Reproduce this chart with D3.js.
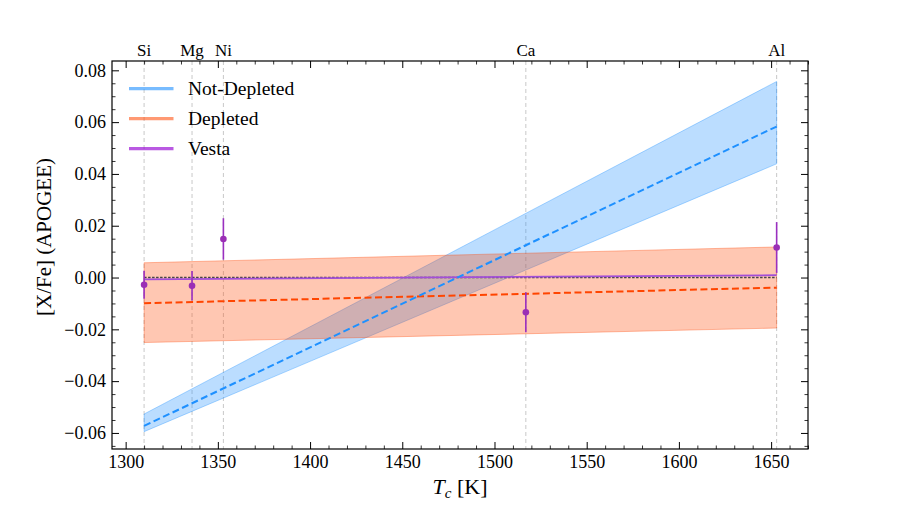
<!DOCTYPE html>
<html>
<head>
<meta charset="utf-8">
<script src="https://cdn.jsdelivr.net/npm/d3@7"></script>
<style>
  body { margin: 0; background: #fff; }
  svg text { font-family: "Liberation Serif", "DejaVu Serif", serif; fill: #000; }
</style>
</head>
<body>
<svg id="chart" width="899" height="514"></svg>
<script>
// element condensation temperatures and Vesta abundances
const elements = ["Si", "Mg", "Ni", "Ca", "Al"];
const tc = [1310, 1336, 1353, 1517, 1653];
const vestaVals = [-0.0028, -0.0032, 0.0149, -0.0134, 0.0116];
const vestaErrs = [0.0054, 0.0057, 0.0080, 0.0077, 0.0098];

// fits evaluated at the Tc range ends
const fitTc = [1310, 1653];
const notDepFit = [-0.0573, 0.0583];
const notDepLo = [-0.0595, 0.0439];
const notDepHi = [-0.0527, 0.0757];
const depFit = [-0.0099, -0.0039];
const depLo = [-0.0251, -0.0195];
const depHi = [0.0057, 0.0118];
const vestaFit = [-0.0007, 0.0009];
const zeroLine = [0, 0];

const xTicks = [1300, 1350, 1400, 1450, 1500, 1550, 1600, 1650];
const yTicks = [-0.06, -0.04, -0.02, 0.00, 0.02, 0.04, 0.06, 0.08];

const legendNames = ["Not-Depleted", "Depleted", "Vesta"];
const legendColours = ["rgba(30,144,255,0.6)", "rgba(255,69,0,0.55)", "rgba(148,0,211,0.65)"];

const pLeft = 112, pRight = 808, pTop = 61, pBottom = 449;

const svg = d3.select("#chart");

const x = d3.scaleLinear().domain([1292.6, 1670]).range([pLeft, pRight]);
const y = d3.scaleLinear().domain([-0.0662, 0.0836]).range([pBottom, pTop]);

const g = svg.append("g");

// vertical guide lines at each element
g.selectAll(".vline")
    .data(tc)
    .enter()
    .append("line")
    .attr("x1", d => x(d)).attr("x2", d => x(d))
    .attr("y1", pTop).attr("y2", pBottom)
    .attr("stroke", "#c8c8c8")
    .attr("stroke-width", 1)
    .attr("stroke-dasharray", "4,3");

function bandData(lo, hi) {
    return fitTc.map((t, i) => ({ t: t, lo: lo[i], hi: hi[i] }));
}

const area = d3.area()
    .x(d => x(d.t))
    .y0(d => y(d.lo))
    .y1(d => y(d.hi));

g.append("path")
    .datum(bandData(notDepLo, notDepHi))
    .attr("d", area)
    .attr("fill", "rgba(30,144,255,0.3)")
    .attr("stroke", "rgba(30,144,255,0.35)")
    .attr("stroke-width", 1);

g.append("path")
    .datum(bandData(depLo, depHi))
    .attr("d", area)
    .attr("fill", "rgba(255,69,0,0.3)")
    .attr("stroke", "rgba(255,69,0,0.35)")
    .attr("stroke-width", 1);

const line = d3.line()
    .x(d => x(d[0]))
    .y(d => y(d[1]));

function pairs(vals) {
    return fitTc.map((t, i) => [t, vals[i]]);
}

// zero reference
g.append("path")
    .datum(pairs(zeroLine))
    .attr("d", line)
    .attr("fill", "none")
    .attr("stroke", "#444")
    .attr("stroke-width", 1.4)
    .attr("stroke-dasharray", "2.5,1.5");

g.append("path")
    .datum(pairs(vestaFit))
    .attr("d", line)
    .attr("fill", "none")
    .attr("stroke", "#a24fd8")
    .attr("stroke-width", 1.8);

g.append("path")
    .datum(pairs(depFit))
    .attr("d", line)
    .attr("fill", "none")
    .attr("stroke", "#ff4500")
    .attr("stroke-width", 2)
    .attr("stroke-dasharray", "7,3.5");

g.append("path")
    .datum(pairs(notDepFit))
    .attr("d", line)
    .attr("fill", "none")
    .attr("stroke", "#1e90ff")
    .attr("stroke-width", 2)
    .attr("stroke-dasharray", "7,3.5");

// Vesta points with error bars
const pts = tc.map((t, i) => ({ t: t, v: vestaVals[i], e: vestaErrs[i] }));

g.selectAll(".err")
    .data(pts)
    .enter()
    .append("line")
    .attr("x1", d => x(d.t)).attr("x2", d => x(d.t))
    .attr("y1", d => y(d.v - d.e)).attr("y2", d => y(d.v + d.e))
    .attr("stroke", "#9a2fc0")
    .attr("stroke-width", 1.6);

g.selectAll(".pt")
    .data(pts)
    .enter()
    .append("circle")
    .attr("cx", d => x(d.t))
    .attr("cy", d => y(d.v))
    .attr("r", 3.3)
    .attr("fill", "#9a2fb5");

// axes, ticks pointing inward on all four sides
const fmtY = d3.format(".2f");

function minor(lo, hi, step) {
    let out = [];
    for (let v = lo; v <= hi + 1e-9; v += step) out.push(+v.toFixed(4));
    return out;
}
const xMinor = minor(1300, 1670, 10).filter(v => v % 50 !== 0);
const yMinor = minor(-0.065, 0.08, 0.005).filter(v => Math.abs(Math.round(v * 50) - v * 50) > 1e-6);

function addAxis(axisFn, scale, ticks, minorTicks, transform, labels, fmt) {
    const ax = svg.append("g").attr("transform", transform);
    ax.call(axisFn(scale).tickValues(ticks).tickSize(-7).tickPadding(6)
        .tickFormat(labels ? fmt : ""));
    ax.select(".domain").remove();
    ax.selectAll("line").attr("stroke", "#000").attr("stroke-width", 1);
    ax.selectAll("text").style("font-size", "18px").attr("fill", "#000");
    const am = svg.append("g").attr("transform", transform);
    am.call(axisFn(scale).tickValues(minorTicks).tickSize(-3.5).tickFormat(""));
    am.select(".domain").remove();
    am.selectAll("line").attr("stroke", "#000").attr("stroke-width", 0.8);
    return ax;
}

addAxis(d3.axisBottom, x, xTicks, xMinor, "translate(0," + pBottom + ")", true, d3.format("d"));
addAxis(d3.axisTop, x, xTicks, xMinor, "translate(0," + pTop + ")", false);
addAxis(d3.axisLeft, y, yTicks, yMinor, "translate(" + pLeft + ",0)", true, fmtY);
addAxis(d3.axisRight, y, yTicks, yMinor, "translate(" + pRight + ",0)", false);

svg.append("rect")
    .attr("x", pLeft).attr("y", pTop)
    .attr("width", pRight - pLeft).attr("height", pBottom - pTop)
    .attr("fill", "none")
    .attr("stroke", "#000")
    .attr("stroke-width", 1.2);

// element names on top
svg.selectAll(".elabel")
    .data(elements)
    .enter()
    .append("text")
    .attr("x", (d, i) => x(tc[i]))
    .attr("y", 56)
    .attr("text-anchor", "middle")
    .style("font-size", "17px")
    .text(d => d);

// legend
const leg = svg.append("g");
legendNames.forEach((name, i) => {
    const ly = 88.7 + i * 30;
    leg.append("line")
        .attr("x1", 129).attr("x2", 173.5)
        .attr("y1", ly).attr("y2", ly)
        .attr("stroke", legendColours[i])
        .attr("stroke-width", 3.2);
    leg.append("text")
        .attr("x", 188).attr("y", ly + 6.5)
        .style("font-size", "19.5px")
        .text(name);
});

// axis titles
const xt = svg.append("text")
    .attr("x", 460).attr("y", 494)
    .attr("text-anchor", "middle")
    .style("font-size", "22px");
xt.append("tspan").style("font-style", "italic").text("T");
xt.append("tspan").style("font-style", "italic").style("font-size", "15px").attr("dy", 4).text("c");
xt.append("tspan").attr("dy", -4).text(" [K]");

svg.append("text")
    .attr("transform", "translate(51,237) rotate(-90)")
    .attr("text-anchor", "middle")
    .style("font-size", "21px")
    .text("[X/Fe] (APOGEE)");
</script>
</body>
</html>
